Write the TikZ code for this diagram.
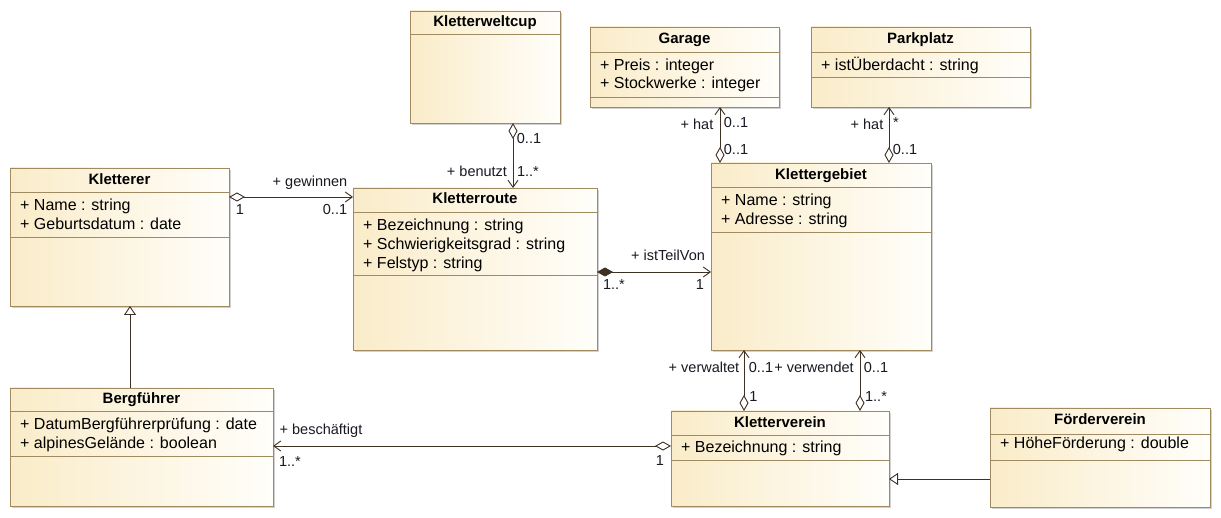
\documentclass[tikz,border=0pt]{standalone}
\usepackage{fontspec}
\setmainfont{Liberation Sans}
\usetikzlibrary{arrows.meta,shadows}
\definecolor{bord}{RGB}{160,138,96}
\definecolor{fillL}{RGB}{250,236,201}
\definecolor{fillR}{RGB}{255,254,250}
\definecolor{lnc}{RGB}{62,48,34}
\definecolor{txt}{RGB}{25,25,35}
\tikzset{
  cls/.style={draw=bord, line width=0.9pt, left color=fillL, right color=fillR,
    inner sep=0pt, outer sep=0pt, anchor=north west,
    drop shadow={shadow xshift=2pt, shadow yshift=-2pt, opacity=0.35, fill=black!50}},
  sepl/.style={draw=bord, line width=0.9pt},
  ttl/.style={font=\fontsize{15}{18}\selectfont\bfseries, inner sep=0pt, anchor=base},
  attr/.style={font=\fontsize{16}{19}\selectfont, inner sep=0pt, anchor=base west},
  lbl/.style={font=\fontsize{14.5}{17}\selectfont, inner sep=0pt, anchor=base, text=txt},
  conn/.style={draw=lnc, line width=0.9pt},
  aggr/.style={conn, {Diamond[open,length=16pt,width=9pt,fill=white]}-{Straight Barb[length=7pt,width=10pt]}},
  comp/.style={conn, {Diamond[length=16pt,width=9pt]}-{Straight Barb[length=7pt,width=10pt]}},
  gen/.style={conn, -{Triangle[open,length=9pt,width=12pt,fill=white]}}
}
\begin{document}
\begin{tikzpicture}[x=1pt,y=-1pt]
\useasboundingbox[fill=white] (0,0) rectangle (1221,518);

% ---- Kletterer
\node[cls, minimum width=219pt, minimum height=138pt] (kletterer) at (10,168) {};
\draw[sepl] (10,192) -- (229,192);
\draw[sepl] (10,237) -- (229,237);
\node[ttl] (kletterer-t) at (119.5,184.5) {Kletterer};
\node[attr] (kletterer-a1) at (20,211) {+ Name : string};
\node[attr] (kletterer-a2) at (20,230) {+ Geburtsdatum : date};

% ---- Bergfuehrer
\node[cls, minimum width=263pt, minimum height=118pt] (bergfuehrer) at (10,388) {};
\draw[sepl] (10,411) -- (273,411);
\draw[sepl] (10,456) -- (273,456);
\node[ttl] (bergfuehrer-t) at (141.5,404) {Bergführer};
\node[attr] (bergfuehrer-a1) at (20,430) {+ DatumBergführerprüfung : date};
\node[attr] (bergfuehrer-a2) at (20,449) {+ alpinesGelände : boolean};

% ---- Kletterweltcup
\node[cls, minimum width=150pt, minimum height=112pt] (weltcup) at (410,11) {};
\draw[sepl] (410,34) -- (560,34);
\node[ttl] (weltcup-t) at (485,27) {Kletterweltcup};

% ---- Kletterroute
\node[cls, minimum width=244pt, minimum height=162pt] (kletterroute) at (353,188) {};
\draw[sepl] (353,212) -- (597,212);
\draw[sepl] (353,275) -- (597,275);
\node[ttl] (kletterroute-t) at (475,204) {Kletterroute};
\node[attr] (kletterroute-a1) at (363,230.5) {+ Bezeichnung : string};
\node[attr] (kletterroute-a2) at (363,249.5) {+ Schwierigkeitsgrad : string};
\node[attr] (kletterroute-a3) at (363,268.5) {+ Felstyp : string};

% ---- Garage
\node[cls, minimum width=189pt, minimum height=80pt] (garage) at (590,27) {};
\draw[sepl] (590,52) -- (779,52);
\draw[sepl] (590,97) -- (779,97);
\node[ttl] (garage-t) at (684.5,44) {Garage};
\node[attr] (garage-a1) at (600,70.5) {+ Preis : integer};
\node[attr] (garage-a2) at (600,89) {+ Stockwerke : integer};

% ---- Parkplatz
\node[cls, minimum width=219pt, minimum height=80pt] (parkplatz) at (811,27) {};
\draw[sepl] (811,52) -- (1030,52);
\draw[sepl] (811,77) -- (1030,77);
\node[ttl] (parkplatz-t) at (920.5,44) {Parkplatz};
\node[attr] (parkplatz-a1) at (821,70.5) {+ istÜberdacht : string};

% ---- Klettergebiet
\node[cls, minimum width=220pt, minimum height=187pt] (gebiet) at (711,163) {};
\draw[sepl] (711,187) -- (931,187);
\draw[sepl] (711,232) -- (931,232);
\node[ttl] (gebiet-t) at (821,179.5) {Klettergebiet};
\node[attr] (gebiet-a1) at (721,205.5) {+ Name : string};
\node[attr] (gebiet-a2) at (721,224.5) {+ Adresse : string};

% ---- Kletterverein
\node[cls, minimum width=218pt, minimum height=95pt] (verein) at (671,411) {};
\draw[sepl] (671,435) -- (889,435);
\draw[sepl] (671,460) -- (889,460);
\node[ttl] (verein-t) at (780,427.5) {Kletterverein};
\node[attr] (verein-a1) at (681,453) {+ Bezeichnung : string};

% ---- Foerderverein
\node[cls, minimum width=220pt, minimum height=99pt] (foerder) at (990,408) {};
\draw[sepl] (990,434) -- (1210,434);
\draw[sepl] (990,460) -- (1210,460);
\node[ttl] (foerder-t) at (1100,424.5) {Förderverein};
\node[attr] (foerder-a1) at (1000,449) {+ HöheFörderung : double};

% ---- Connectors
\draw[aggr] ([yshift=-29pt]kletterer.north east) -- ([yshift=-9pt]kletterroute.north west);
\node[lbl] (l-gew) at (310,187) {+ gewinnen};
\node[lbl] (l-gew1) at (240,215) {1};
\node[lbl] (l-gew2) at (335,215) {0..1};

\draw[aggr] ([xshift=28pt]weltcup.south) -- ([xshift=38pt]kletterroute.north);
\node[lbl] (l-ben1) at (529,144) {0..1};
\node[lbl] (l-ben) at (477,177) {+ benutzt};
\node[lbl] (l-ben2) at (528,177) {1..*};

\draw[comp] ([yshift=-84pt]kletterroute.north east) -- ([yshift=-109pt]gebiet.north west);
\node[lbl] (l-itv) at (668,261) {+ istTeilVon};
\node[lbl] (l-itv1) at (614,290) {1..*};
\node[lbl] (l-itv2) at (700,290) {1};

\draw[aggr] ([xshift=9pt]gebiet.north west) -- ([xshift=130pt]garage.south west);
\node[lbl] (l-hat1) at (697,130) {+ hat};
\node[lbl] (l-hat1a) at (736,128) {0..1};
\node[lbl] (l-hat1b) at (736,155) {0..1};

\draw[aggr] ([xshift=178pt]gebiet.north west) -- ([xshift=78pt]parkplatz.south west);
\node[lbl] (l-hat2) at (867,130) {+ hat};
\node[lbl] (l-hat2a) at (896,128) {*};
\node[lbl] (l-hat2b) at (905,155) {0..1};

\draw[aggr] ([xshift=73pt]verein.north west) -- ([xshift=33pt]gebiet.south west);
\node[lbl] (l-vwa) at (704,373) {+ verwaltet};
\node[lbl] (l-vwa1) at (761,373) {0..1};
\node[lbl] (l-vwa2) at (753.5,402) {1};

\draw[aggr] ([xshift=189pt]verein.north west) -- ([xshift=149pt]gebiet.south west);
\node[lbl] (l-vwe) at (814,373) {+ verwendet};
\node[lbl] (l-vwe1) at (876,373) {0..1};
\node[lbl] (l-vwe2) at (876,402) {1..*};

\draw[aggr] ([yshift=-35pt]verein.north west) -- ([yshift=-58pt]bergfuehrer.north east);
\node[lbl] (l-bes) at (321,435) {+ beschäftigt};
\node[lbl] (l-bes1) at (290,466) {1..*};
\node[lbl] (l-bes2) at (660,465) {1};

\draw[gen] ([xshift=120pt]bergfuehrer.north west) -- ([xshift=120pt]kletterer.south west);
\draw[gen] ([yshift=-71pt]foerder.north west) -- ([yshift=-68pt]verein.north east);
\end{tikzpicture}
\end{document}
